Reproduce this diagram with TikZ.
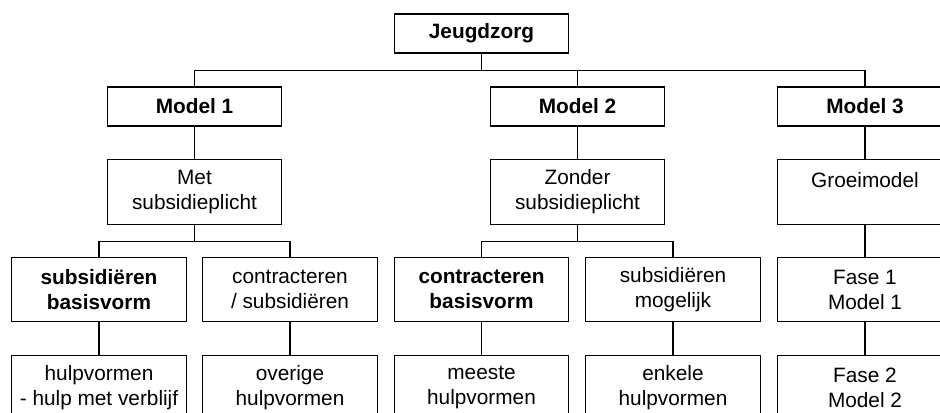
\documentclass[tikz,border=0pt]{standalone}
\usepackage{fontspec}
\setmainfont{Liberation Sans}
\usepackage{tikz}

\tikzset{
  box/.style={draw, line width=0.8pt, align=center, inner sep=0pt,
    minimum width=131pt, font=\fontsize{15.6}{18.75}\selectfont},
  headbox/.style={box, minimum height=29.25pt, font=\fontsize{15.6}{18.75}\selectfont\bfseries},
  tallbox/.style={box, minimum height=48.5pt},
  conn/.style={line width=0.8pt}
}

\begin{document}
\begin{tikzpicture}[x=0.75pt, y=-0.75pt]
\useasboundingbox (0,0) rectangle (940,412);
\clip (0,0) rectangle (940,412);

% top
\node[headbox] (jz) at (481.5, 33.5) {Jeugdzorg};

% models
\node[headbox] (m1) at (194.5, 106.5) {Model 1};
\node[headbox] (m2) at (577.5, 106.5) {Model 2};
\node[headbox] (m3) at (865, 106.5) {Model 3};

\node[tallbox] (met) at (194.5, 192) {Met\\subsidieplicht};
\node[tallbox] (zonder) at (577.5, 192) {Zonder\\subsidieplicht};
\node[tallbox] (groei) at (865, 192) {Groeimodel\\\mbox{}};

% third row
\node[tallbox] (subsb) at (99, 289.5) {\textbf{subsidiëren}\\\textbf{basisvorm}};
\node[tallbox] (contrs) at (290, 289.5) {contracteren\\/ subsidiëren};
\node[tallbox] (contrb) at (481.5, 289.5) {\textbf{contracteren}\\\textbf{basisvorm}};
\node[tallbox] (subsm) at (673, 289.5) {subsidiëren\\mogelijk};
\node[tallbox] (fase1) at (865, 289.5) {Fase 1\\Model 1};

% bottom row
\node[tallbox] (hulpv) at (99, 387.5) {hulpvormen\\- hulp met verblijf};
\node[tallbox] (overig) at (290, 387.5) {overige\\hulpvormen};
\node[tallbox] (meeste) at (481.5, 387.5) {meeste\\hulpvormen};
\node[tallbox] (enkele) at (673, 387.5) {enkele\\hulpvormen};
\node[tallbox] (fase2) at (865, 387.5) {Fase 2\\Model 2};

% connectors
\draw[conn] (jz.south) -- ++(0,17) coordinate (bus1);
\draw[conn] (m1.north) |- (bus1) -| (m3.north);
\draw[conn] (m2.north) -- (m2.north |- bus1);

\draw[conn] (m1) -- (met);
\draw[conn] (m2) -- (zonder);
\draw[conn] (m3) -- (groei);

\draw[conn] (met.south) -- ++(0,16.5) coordinate (bus2);
\draw[conn] (subsb.north) |- (bus2) -| (contrs.north);
\draw[conn] (zonder.south) -- ++(0,16.5) coordinate (bus3);
\draw[conn] (contrb.north) |- (bus3) -| (subsm.north);
\draw[conn] (groei) -- (fase1);

\draw[conn] (subsb) -- (hulpv);
\draw[conn] (contrs) -- (overig);
\draw[conn] (contrb) -- (meeste);
\draw[conn] (subsm) -- (enkele);
\draw[conn] (fase1) -- (fase2);

\end{tikzpicture}
\end{document}
